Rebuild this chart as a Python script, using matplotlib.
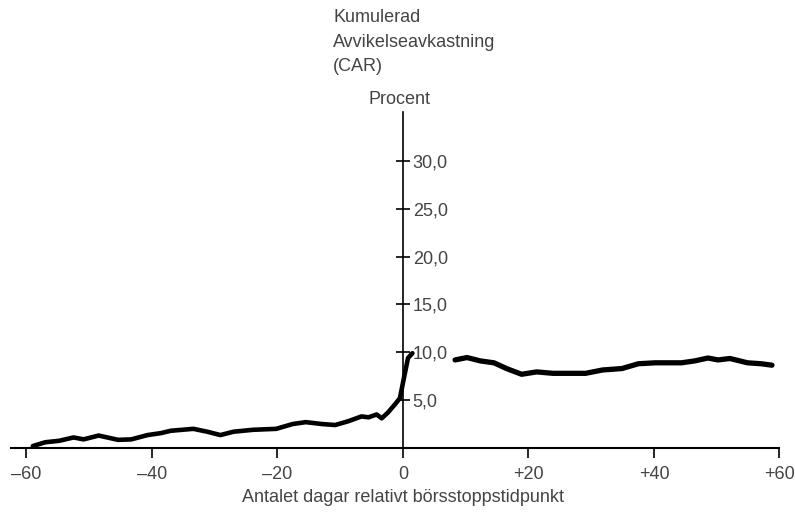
import matplotlib.pyplot as plt

plt.rcParams['font.family'] = ['Liberation Sans', 'DejaVu Sans']

# CAR before the trading halt (day, percent)
days_before = [-59, -57, -54.8, -52.5, -50.9, -48.5, -45.4, -43.3, -40.7, -38.6,
               -37, -33.4, -31.2, -29.1, -27, -23.9, -20.2, -17.6, -15.5, -12.9,
               -10.8, -8.7, -6.6, -5.5, -4.2, -3.4, -2.4, -1.1, -0.5, 0.3, 0.8, 1.5]
car_before = [0.2, 0.6, 0.75, 1.1, 0.9, 1.3, 0.85, 0.9, 1.35, 1.55,
              1.8, 2.0, 1.7, 1.35, 1.7, 1.9, 2.0, 2.5, 2.7, 2.5,
              2.4, 2.8, 3.3, 3.2, 3.5, 3.1, 3.7, 4.7, 5.2, 7.8, 9.4, 9.9]

# CAR after the trading halt
days_after = [8.3, 10.2, 12.3, 14.5, 16.5, 18.9, 21.3, 23.9, 29.1, 31.8,
              34.9, 37.5, 40.2, 44.4, 46.5, 48.6, 50.2, 52.1, 54.9, 57.1, 58.8]
car_after = [9.2, 9.45, 9.1, 8.9, 8.3, 7.7, 7.95, 7.8, 7.8, 8.15,
             8.3, 8.8, 8.9, 8.9, 9.1, 9.4, 9.2, 9.35, 8.9, 8.8, 8.65]

xticks = [-60, -40, -20, 0, 20, 40, 60]
xticklabels = ['\u201360', '\u201340', '\u201320', '0', '+20', '+40', '+60']
yticks = [5, 10, 15, 20, 25, 30]
yticklabels = ['5,0', '10,0', '15,0', '20,0', '25,0', '30,0']

txt = '#444444'

fig = plt.figure(figsize=(7.95, 5.2), dpi=100)
ax = fig.add_axes([0.0136, 0.1385, 0.9669, 0.646])

ax.plot(days_before, car_before, color='black', lw=3.3, solid_capstyle='round',
        solid_joinstyle='round')
ax.plot(days_after, car_after, color='black', lw=3.8, solid_capstyle='round',
        solid_joinstyle='round')

ax.set_xlim(-62.5, 60)
ax.set_ylim(0, 35.1)

ax.spines['top'].set_visible(False)
ax.spines['left'].set_visible(False)
ax.spines['right'].set_position(('data', 0))
ax.spines['right'].set_linewidth(1.2)
ax.spines['bottom'].set_linewidth(1.5)

ax.yaxis.tick_right()
ax.set_yticks(yticks)
ax.set_yticklabels(yticklabels)
ax.tick_params(axis='y', direction='inout', length=10, width=1.2, pad=2,
               labelsize=13, labelcolor=txt)

ax.set_xticks(xticks)
ax.set_xticklabels(xticklabels)
ax.tick_params(axis='x', direction='out', length=7, width=1.2, pad=6,
               labelsize=13, labelcolor=txt)

fig.text(0.507, 0.027, 'Antalet dagar relativt b\u00f6rsstoppstidpunkt',
         ha='center', va='bottom', fontsize=13, color=txt)
fig.text(0.419, 0.982, 'Kumulerad\nAvvikelseavkastning\n(CAR)',
         ha='left', va='top', fontsize=13, color=txt, linespacing=1.55)
fig.text(0.503, 0.793, 'Procent', ha='center', va='bottom', fontsize=13, color=txt)

fig.savefig('out.png', dpi=100)
